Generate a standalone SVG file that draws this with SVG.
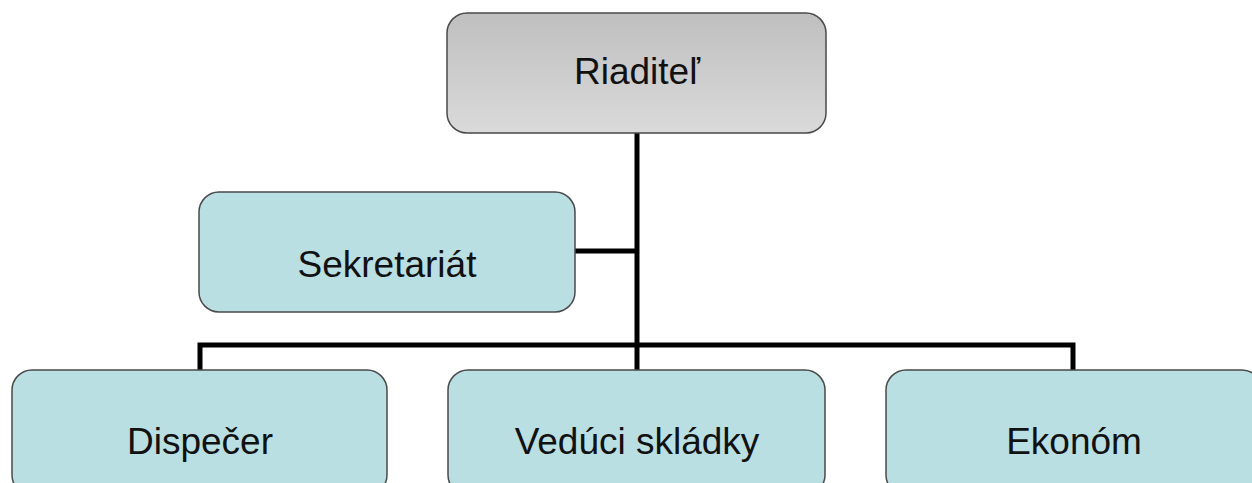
<svg xmlns="http://www.w3.org/2000/svg" width="1252" height="483" viewBox="0 0 1252 483">
<defs>
<linearGradient id="gray" x1="0" y1="0" x2="0" y2="1">
<stop offset="0" stop-color="#bfbfbf"/>
<stop offset="1" stop-color="#dadada"/>
</linearGradient>
<style>
.box{stroke:#4a4a4a;stroke-width:1.5}
.teal{fill:#b9dfe2}
.lbl{font-family:"Liberation Sans",Arial,sans-serif;font-size:37px;fill:#111;text-anchor:middle}
.conn{stroke:#000;stroke-width:5;fill:none}
</style>
</defs>
<rect width="1252" height="483" fill="#fff"/>
<g id="connectors">
<path class="conn" d="M637 133 V370"/>
<path class="conn" d="M575 251 H637"/>
<path class="conn" d="M200 370 V345 H1073 V370"/>
</g>
<g id="riaditel">
<rect class="box" x="447" y="13" width="379" height="120" rx="20" fill="url(#gray)"/>
<text class="lbl" x="637" y="84">Riaditeľ</text>
</g>
<g id="sekretariat">
<rect class="box teal" x="199" y="192" width="376" height="120" rx="20"/>
<text class="lbl" x="387" y="277">Sekretariát</text>
</g>
<g id="dispecer">
<rect class="box teal" x="12" y="370" width="375" height="125" rx="20"/>
<text class="lbl" x="200" y="454">Dispečer</text>
</g>
<g id="veduci">
<rect class="box teal" x="448" y="370" width="377" height="125" rx="20"/>
<text class="lbl" x="637" y="454">Vedúci skládky</text>
</g>
<g id="ekonom">
<rect class="box teal" x="886" y="370" width="376" height="125" rx="20"/>
<text class="lbl" x="1074" y="454">Ekonóm</text>
</g>
</svg>
